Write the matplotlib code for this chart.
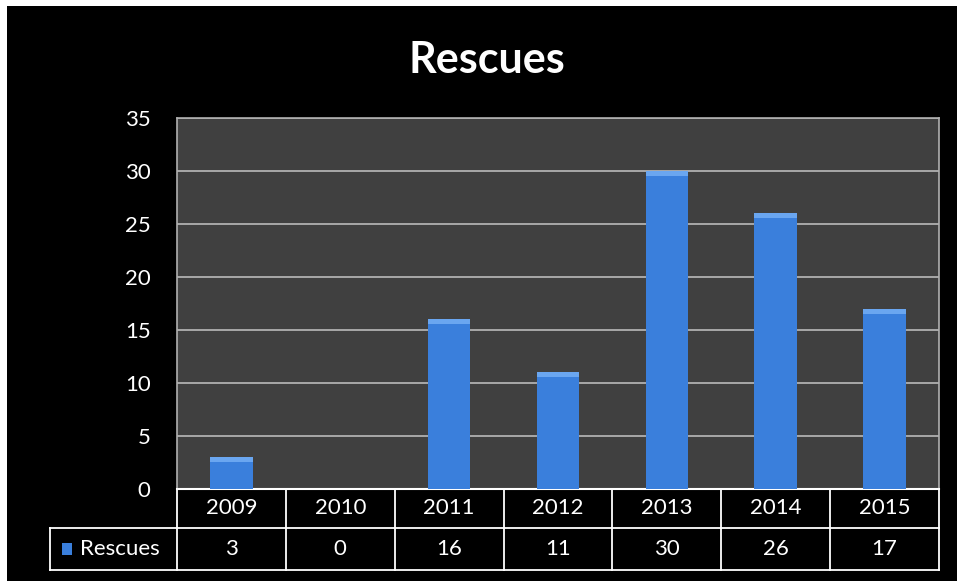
import matplotlib
matplotlib.use("Agg")
import matplotlib.pyplot as plt
import matplotlib.transforms as mtransforms
from matplotlib.patches import Rectangle

years = ["2009", "2010", "2011", "2012", "2013", "2014", "2015"]
rescues = [3, 0, 16, 11, 30, 26, 17]
series_name = "Rescues"
yticks = [0, 5, 10, 15, 20, 25, 30, 35]

plt.rcParams['font.family'] = ['Lato', 'DejaVu Sans']

W, H = 957, 581
fig = plt.figure(figsize=(W / 100, H / 100), dpi=100, facecolor="black")
# white margin on top and left
fig.patches.append(Rectangle((0, 1 - 6 / H), 1, 6 / H, transform=fig.transFigure,
                             facecolor="white", edgecolor="none", zorder=-10))
fig.patches.append(Rectangle((0, 0), 7 / W, 1, transform=fig.transFigure,
                             facecolor="white", edgecolor="none", zorder=-10))

L, R, T, B = 177, 939, 118, 489
ax = fig.add_axes([L / W, 1 - B / H, (R - L) / W, (B - T) / H])
ax.set_facecolor("#404040")
x = list(range(len(years)))
ax.bar(x, rescues, width=0.39, color="#3a7fdc", zorder=3)
# lighter cap at top of each bar (cylinder look)
ax.bar(x, [0.45 if v > 0 else 0 for v in rescues], bottom=[v - 0.45 for v in rescues],
       width=0.39, color="#6aa6f0", zorder=4)
ax.set_xlim(-0.5, len(years) - 0.5)
ax.set_ylim(0, 35)
ax.set_yticks(yticks)
ax.set_yticklabels([str(v) for v in yticks], color="white", fontsize=16)
ax.tick_params(axis="y", length=0, pad=19)
ax.set_xticks([])
ax.grid(axis="y", color="#a8a8a8", linewidth=1.4, zorder=1)
for s in ["left", "top", "right"]:
    ax.spines[s].set_color("#b0b0b0")
    ax.spines[s].set_linewidth(1.2)
ax.spines["bottom"].set_color("white")
ax.spines["bottom"].set_linewidth(1.5)

fig.text(487 / W, 1 - 60 / H, "Rescues", ha="center", va="center", color="white",
         fontsize=31, fontweight="bold")

# Data table below the axes
ah = B - T
y_mid = -(528 - B) / ah
y_bot = -(570 - B) / ah
trans = mtransforms.blended_transform_factory(ax.transData, ax.transAxes)
colw = (R - L) / len(years)
x_left = -0.5 - (L - 50) / colw
lw = 1.3
lc = "white"
for i in range(len(years) + 1):
    ax.plot([i - 0.5, i - 0.5], [0, y_bot], transform=trans, color=lc, lw=lw, clip_on=False)
ax.plot([x_left, len(years) - 0.5], [y_mid, y_mid], transform=trans, color=lc, lw=lw, clip_on=False)
ax.plot([x_left, len(years) - 0.5], [y_bot, y_bot], transform=trans, color=lc, lw=lw, clip_on=False)
ax.plot([x_left, x_left], [y_mid, y_bot], transform=trans, color=lc, lw=lw, clip_on=False)
for i, (yr, v) in enumerate(zip(years, rescues)):
    ax.text(i, y_mid / 2, yr, transform=trans, ha="center", va="center", color="white", fontsize=16)
    ax.text(i, (y_mid + y_bot) / 2, str(v), transform=trans, ha="center", va="center",
            color="white", fontsize=16)
# legend key + series name
ax.add_patch(Rectangle((x_left + 12 / colw, (y_mid + y_bot) / 2 - 0.016), 10 / colw, 0.032,
                       transform=trans, facecolor="#3a7fdc", edgecolor="none", clip_on=False))
ax.text(x_left + 30 / colw, (y_mid + y_bot) / 2, series_name, transform=trans, ha="left",
        va="center", color="white", fontsize=16)

fig.savefig("out.png", dpi=100, facecolor=fig.get_facecolor())
